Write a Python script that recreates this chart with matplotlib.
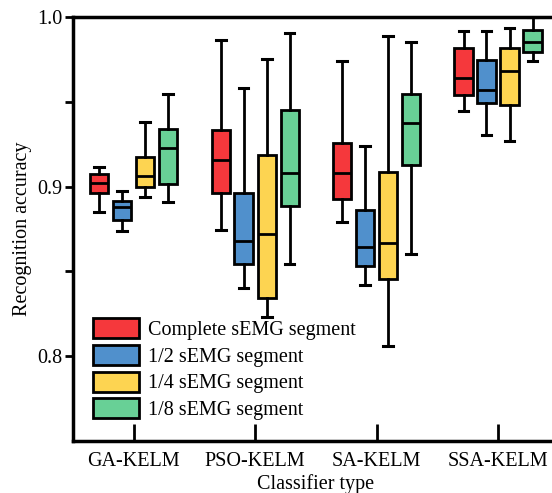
import matplotlib
matplotlib.use('Agg')
import matplotlib.pyplot as plt
from matplotlib.patches import Patch

plt.rcParams['font.family'] = ['Liberation Serif', 'DejaVu Serif']

classifiers = ['GA-KELM', 'PSO-KELM', 'SA-KELM', 'SSA-KELM']
segments = ['Complete sEMG segment', '1/2 sEMG segment', '1/4 sEMG segment', '1/8 sEMG segment']
colors = ['#F5383C', '#5090CC', '#FDD451', '#68D096']

# box statistics per segment length: [whislo, q1, med, q3, whishi], one row per classifier
complete = [[0.8852, 0.8960, 0.9020, 0.9073, 0.9114],
            [0.8747, 0.8964, 0.9154, 0.9335, 0.9862],
            [0.8793, 0.8925, 0.9083, 0.9258, 0.9741],
            [0.9444, 0.9540, 0.9639, 0.9819, 0.9919]]
half = [[0.8736, 0.8805, 0.8878, 0.8915, 0.8972],
        [0.8400, 0.8543, 0.8680, 0.8964, 0.9582],
        [0.8422, 0.8533, 0.8645, 0.8862, 0.9237],
        [0.9304, 0.9495, 0.9572, 0.9744, 0.9919]]
quarter = [[0.8941, 0.8996, 0.9061, 0.9173, 0.9380],
           [0.8233, 0.8341, 0.8720, 0.9189, 0.9753],
           [0.8063, 0.8456, 0.8669, 0.9085, 0.9886],
           [0.9266, 0.9483, 0.9682, 0.9820, 0.9933]]
eighth = [[0.8911, 0.9016, 0.9225, 0.9339, 0.9546],
          [0.8544, 0.8886, 0.9083, 0.9454, 0.9907],
          [0.8604, 0.9130, 0.9375, 0.9544, 0.9850],
          [0.9738, 0.9793, 0.9850, 0.9923, 1.0000]]
series = [complete, half, quarter, eighth]
offsets = [-0.284, -0.095, 0.095, 0.284]

fig = plt.figure(figsize=(5.52, 4.93), dpi=100)
ax = fig.add_axes([0.1322, 0.1055, 0.880, 0.860])

for data, col, off in zip(series, colors, offsets):
    stats = []
    for row in data:
        lo, q1, med, q3, hi = row
        stats.append(dict(whislo=lo, q1=q1, med=med, q3=q3, whishi=hi, fliers=[]))
    pos = [i + 1 + off for i in range(len(classifiers))]
    ax.bxp(stats, positions=pos, widths=0.15, patch_artist=True, showfliers=False,
           boxprops=dict(facecolor=col, edgecolor='black', linewidth=2),
           medianprops=dict(color='black', linewidth=2),
           whiskerprops=dict(color='black', linewidth=2),
           capprops=dict(color='black', linewidth=2.2),
           capwidths=0.08, manage_ticks=False)

ax.set_xlim(0.5, 4.5)
ax.set_ylim(0.75, 1.0)
ax.set_xticks(range(1, 5))
ax.set_xticklabels(classifiers)
ax.set_yticks([0.8, 0.9, 1.0])
ax.set_yticklabels(['0.8', '0.9', '1.0'])
ax.set_yticks([0.85, 0.95], minor=True)
ax.tick_params(axis='y', which='both', direction='out', length=6, width=2, labelsize=14.5, pad=1.5)
ax.tick_params(axis='x', direction='in', length=12, width=2, labelsize=14.5, pad=8)
for s in ['left', 'bottom', 'top']:
    ax.spines[s].set_linewidth(2.5)
ax.spines['right'].set_visible(False)

ax.set_ylabel('Recognition accuracy', fontsize=14.5, labelpad=4)
ax.set_xlabel('Classifier type', fontsize=14.5, labelpad=2)

handles = [Patch(facecolor=c, edgecolor='black', linewidth=2) for c in colors]
ax.legend(handles, segments, loc='lower left', bbox_to_anchor=(0.025, 0.03), frameon=False,
          fontsize=14.5, handlelength=2.3, handleheight=1.15, handletextpad=0.4,
          labelspacing=0.25, borderaxespad=0)

fig.savefig('out.png', dpi=100)
